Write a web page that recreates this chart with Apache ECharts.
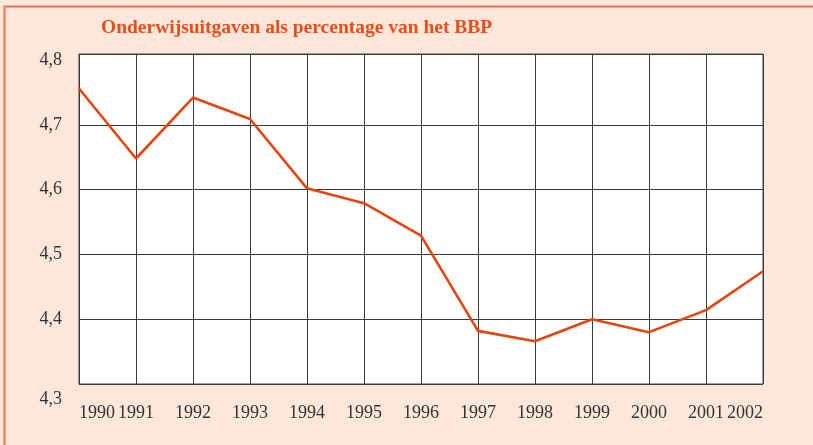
<!DOCTYPE html>
<html>
<head>
<meta charset="utf-8">
<script src="https://cdn.jsdelivr.net/npm/echarts@6/dist/echarts.min.js"></script>
<style>
    html, body { margin: 0; padding: 0; background: #fde7da; }
    #chart { width: 813px; height: 445px; }
</style>
</head>
<body>
<div id="chart"></div>
<script>
    const years = ['1990', '1991', '1992', '1993', '1994', '1995', '1996',
        '1997', '1998', '1999', '2000', '2001', '2002'];
    const spending = [4.756, 4.648, 4.742, 4.709, 4.602, 4.579, 4.529,
        4.382, 4.366, 4.400, 4.380, 4.414, 4.474];
    const yTicks = [4.3, 4.4, 4.5, 4.6, 4.7, 4.8];

    const gridColor = '#3a3a3a';
    const chart = echarts.init(document.getElementById('chart'));
    chart.setOption({
        backgroundColor: '#fde7da',
        animation: false,
        title: {
            text: 'Onderwijsuitgaven als percentage van het BBP',
            left: 96,
            top: 13,
            textStyle: {
                fontFamily: 'Liberation Serif',
                fontWeight: 'bold',
                fontSize: 19.5,
                color: '#e84e1c'
            }
        },
        graphic: [{
            type: 'polyline',
            shape: {points: [[4.5, 900], [4.5, 6.5], [2000, 6.5]]},
            style: {fill: null, stroke: '#ef6f4c', lineWidth: 2},
            silent: true
        }],
        grid: {
            left: 79,
            right: 50,
            top: 54,
            bottom: 61,
            show: true,
            backgroundColor: '#ffffff',
            borderColor: '#444444',
            borderWidth: 1
        },
        xAxis: {
            type: 'category',
            data: years,
            boundaryGap: false,
            axisLine: {show: false},
            axisTick: {show: false},
            splitLine: {
                show: true,
                interval: 0,
                lineStyle: {color: gridColor, width: 1}
            },
            axisLabel: {
                interval: 0,
                margin: 20,
                alignMinLabel: 'left',
                alignMaxLabel: 'right',
                fontFamily: 'Liberation Serif',
                fontSize: 18,
                color: '#333333'
            }
        },
        yAxis: {
            type: 'value',
            min: 4.3,
            max: 4.8 + 6 / 648,
            interval: 0.1,
            axisLine: {show: false},
            axisTick: {show: false},
            splitLine: {
                lineStyle: {
                    color: [gridColor, gridColor, gridColor, gridColor, gridColor,
                        'rgba(0,0,0,0)', gridColor],
                    width: 1
                }
            },
            axisLabel: {
                margin: 17,
                fontFamily: 'Liberation Serif',
                fontSize: 18,
                color: '#333333',
                formatter: function (v) {
                    const hit = yTicks.find(t => Math.abs(t - v) < 0.001);
                    if (hit === undefined) return '';
                    const s = hit.toFixed(1).replace('.', ',');
                    return hit === yTicks[0] ? '{low|' + s + '}' : s;
                },
                rich: {
                    low: {
                        fontFamily: 'Liberation Serif',
                        fontSize: 18,
                        color: '#333333',
                        padding: [30, 0, 0, 0]
                    }
                }
            }
        },
        series: [{
            name: 'Onderwijsuitgaven',
            type: 'line',
            data: spending,
            symbol: 'none',
            lineStyle: {color: '#e8440f', width: 2.6}
        }]
    });
</script>
</body>
</html>
